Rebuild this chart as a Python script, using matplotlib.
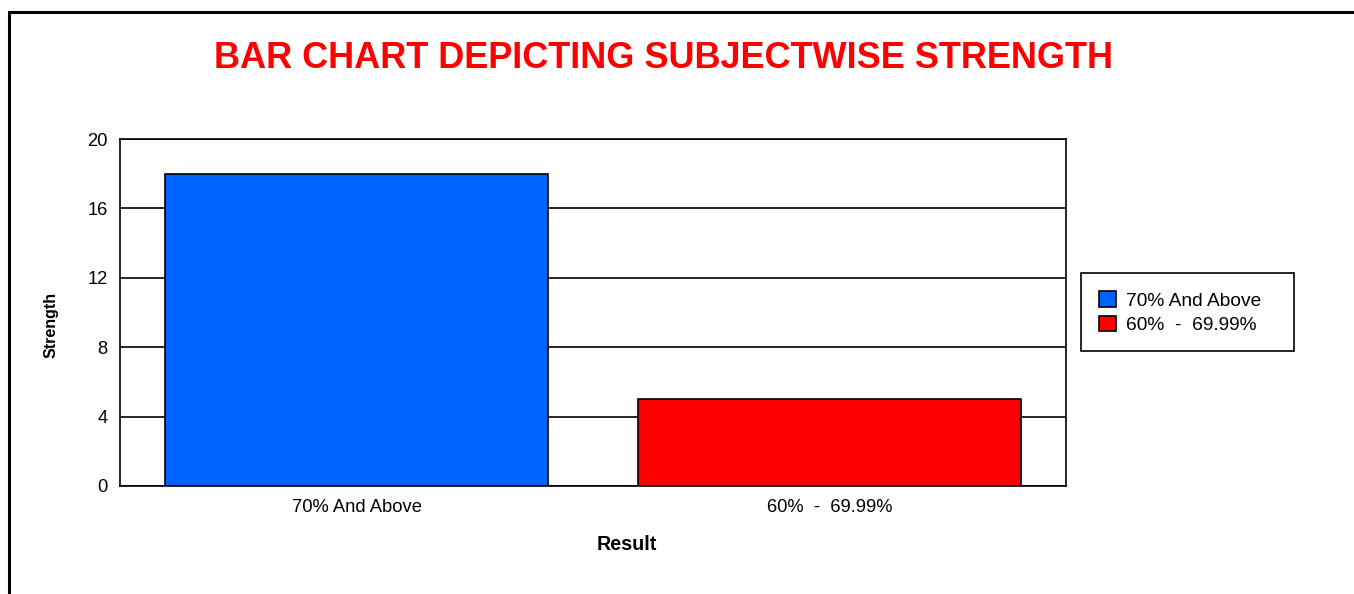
import matplotlib.pyplot as plt
from matplotlib.patches import Rectangle

categories = ["70% And Above", "60%  -  69.99%"]
strength = [18, 5]
bar_colors = ["#0062ff", "#ff0000"]
y_ticks = [0, 4, 8, 12, 16, 20]

W, H = 1354, 594
plt.rcParams["font.family"] = ["Liberation Sans", "DejaVu Sans"]

fig = plt.figure(figsize=(W / 100, H / 100), dpi=100)

# outer frame, cut off at right and bottom
fig.patches.append(Rectangle(
    (9 / W, -0.1), 1.2, 1 - 11.5 / H + 0.1,
    transform=fig.transFigure, fill=False,
    edgecolor="black", linewidth=2.2
))

ax = fig.add_axes([120 / W, 1 - 486 / H, (1066 - 120) / W, (486 - 139) / H])

x = list(range(len(categories)))
bars = ax.bar(x, strength, width=0.81, color=bar_colors,
              edgecolor="black", linewidth=1.2, zorder=3,
              label=categories)

ax.set_xlim(-0.5, 1.5)
ax.set_ylim(0, 20)
ax.set_yticks(y_ticks)
ax.set_xticks(x)
ax.set_xticklabels(categories)
ax.tick_params(length=0, labelsize=13.2, pad=9)
ax.grid(axis="y", color="black", linewidth=1.2, zorder=0)
for s in ax.spines.values():
    s.set_linewidth(1.2)

ax.set_ylabel("Strength", fontsize=11.5, fontweight="bold")
ax.yaxis.set_label_coords(-0.0655, 0.464)
ax.set_xlabel("Result", fontsize=14.2, fontweight="bold")
ax.xaxis.set_label_coords(0.536, -0.141)

fig.text(664 / W, 1 - 59 / H, "BAR CHART DEPICTING SUBJECTWISE STRENGTH",
         color="red", fontsize=26, fontweight="bold",
         ha="center", va="center")

# legend box is wider than its contents
fig.patches.append(Rectangle(
    (1081 / W, 1 - 351 / H), (1294 - 1081) / W, (351 - 273) / H,
    transform=fig.transFigure, facecolor="white",
    edgecolor="black", linewidth=1.2
))
fig.legend(handles=bars, labels=categories,
           loc="upper left",
           bbox_to_anchor=(1081 / W, 1 - 273 / H),
           fontsize=13.8, frameon=False,
           handlelength=0.88, handleheight=0.88,
           handletextpad=0.5, labelspacing=0.32,
           borderpad=0.95, borderaxespad=0)

fig.savefig("out.png", dpi=100)
